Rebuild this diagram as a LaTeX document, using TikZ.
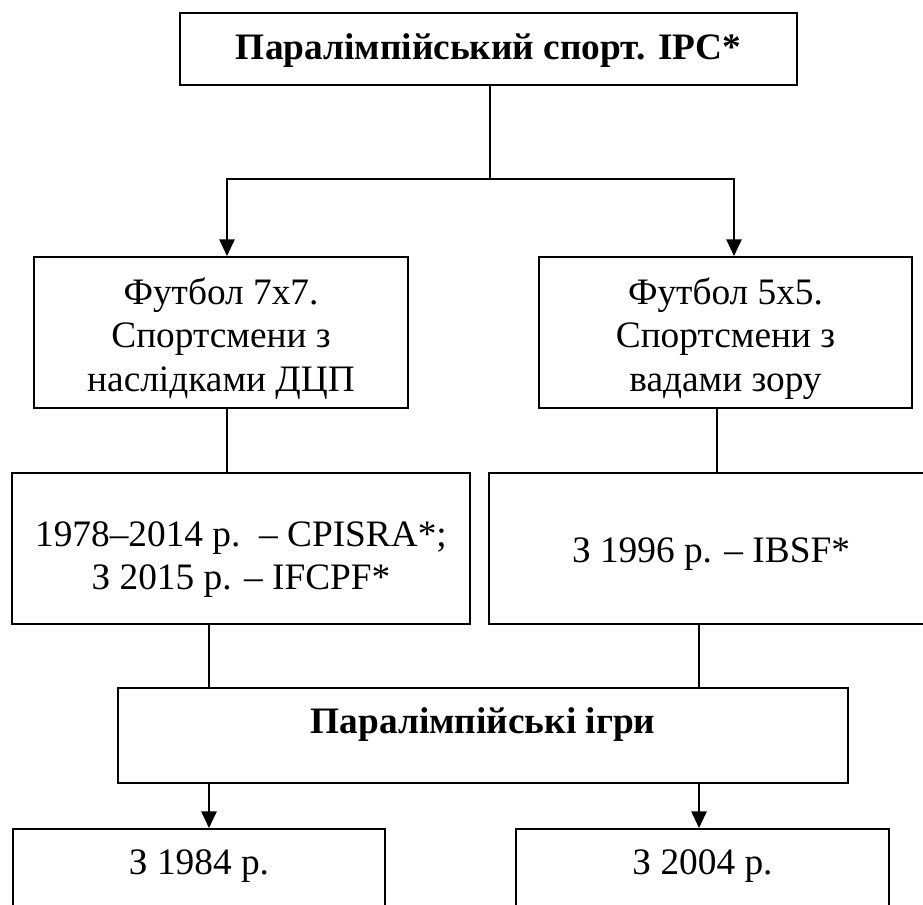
\documentclass[tikz,border=0pt]{standalone}
\usepackage{fontspec}
\setmainfont{Liberation Serif}
\usetikzlibrary{arrows.meta}

\begin{document}
\begin{tikzpicture}[x=0.75pt, y=-0.75pt,
    box/.style = {draw, line width=1.5pt, align=center, inner sep=0pt,
                  font=\fontsize{28}{32.5}\selectfont},
    conn/.style = {line width=1.3pt},
    arr/.style = {conn, -{Triangle[length=12.5pt, width=11.5pt]}}]
    \clip (0,0) rectangle (923,905);

    \node [box, minimum width=462.75pt, text height=35.25pt, text depth=18.75pt, font=\fontsize{28}{32.5}\selectfont\bfseries]
        (sport) at (488.5, 49) {Паралімпійський спорт. IPC*};

    \node [box, minimum width=280.5pt, minimum height=113.25pt] (fb7) at (221, 332.5)
        {\rule{0pt}{29pt}Футбол 7x7.\\ Спортсмени з\\ наслідками ДЦП};
    \node [box, minimum width=279.75pt, minimum height=113.25pt] (fb5) at (725.5, 332.5)
        {\rule{0pt}{29pt}Футбол 5x5.\\ Спортсмени з\\ вадами зору};

    \node [box, minimum width=343.5pt, minimum height=113.25pt] (org7) at (241, 548.5)
        {\rule{0pt}{35pt}1978–2014 р.~~– CPISRA*;\\ З 2015 р. – IFCPF*};
    \node [box, minimum width=333pt, text height=67pt, text depth=46pt] (org5) at (711, 548.5)
        {З 1996 р. – IBSF*};

    \node [box, minimum width=547.5pt, text height=34pt, text depth=37pt, font=\fontsize{28}{32.5}\selectfont\bfseries]
        (games) at (483, 735.5) {Паралімпійські ігри};

    \node [box, anchor=north, minimum width=279pt, text height=33.75pt, text depth=75pt]
        (yr84) at (199, 828) {З 1984 р.};
    \node [box, anchor=north, minimum width=279.75pt, text height=33.75pt, text depth=75pt]
        (yr04) at (702.5, 828) {З 2004 р.};

    % branch points
    \coordinate (trunk) at (490, 179);
    \coordinate (brL) at (227, 179);
    \coordinate (brR) at (734, 179);
    \coordinate (upR) at (717, 0);
    \coordinate (lowL) at (209, 0);
    \coordinate (lowR) at (699, 0);

    \draw [arr] (trunk |- sport.south) |- (brL) -- (brL |- fb7.north);
    \draw [arr] (trunk |- sport.south) |- (brR) -- (brR |- fb5.north);
    \draw [conn] (brL |- fb7.south) -- (brL |- org7.north);
    \draw [conn] (upR |- fb5.south) -- (upR |- org5.north);
    \draw [conn] (lowL |- org7.south) -- (lowL |- games.north);
    \draw [conn] (lowR |- org5.south) -- (lowR |- games.north);
    \draw [arr] (lowL |- games.south) -- (lowL |- yr84.north);
    \draw [arr] (lowR |- games.south) -- (lowR |- yr04.north);
\end{tikzpicture}
\end{document}
